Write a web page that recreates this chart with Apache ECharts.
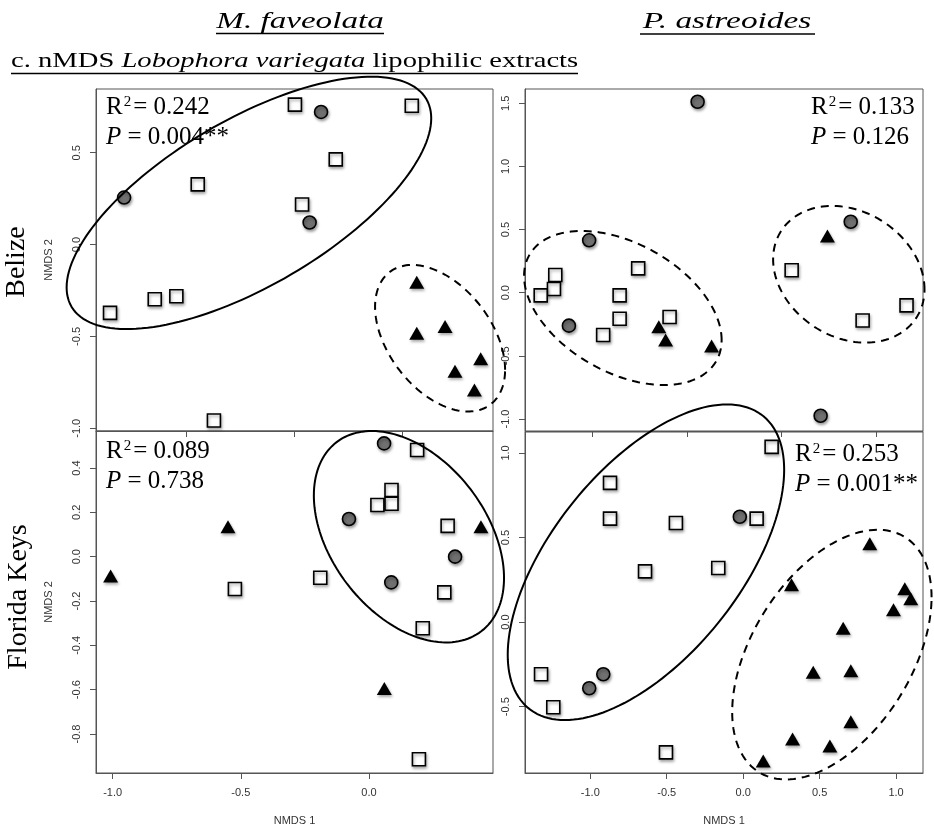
<!DOCTYPE html>
<html><head><meta charset="utf-8">
<script src="https://cdn.jsdelivr.net/npm/echarts@6/dist/echarts.min.js"></script>
<style>html,body{margin:0;padding:0;background:#fff}#c{width:934px;height:831px}</style>
</head><body><div id="c"></div>
<script>
// ---- Data (NMDS 1, NMDS 2) ----
const tlSquares = [[0.001,0.762],[0.542,0.756],[0.190,0.464],[-0.449,0.328],[0.034,0.218],[-0.648,-0.298],[-0.548,-0.281],[-0.855,-0.372],[-0.374,-0.958]];
const tlCircles = [[0.122,0.722],[-0.790,0.256],[0.069,0.120]];
const tlTriangles = [[0.565,-0.205],[0.565,-0.483],[0.696,-0.446],[0.861,-0.622],[0.742,-0.690],[0.832,-0.792]];

const trSquares = [[-1.195,0.140],[-1.202,0.029],[-1.272,-0.021],[-0.757,0.193],[-0.855,-0.021],[-0.855,-0.206],[-0.942,-0.335],[-0.591,-0.192],[0.054,0.178],[0.429,-0.220],[0.661,-0.100]];
const trCircles = [[-0.443,1.512],[-1.016,0.415],[-1.123,-0.261],[0.366,0.562],[0.207,-0.974]];
const trTriangles = [[-0.648,-0.269],[-0.612,-0.375],[-0.369,-0.422],[0.243,0.449]];

const blSquares = [[0.188,0.481],[0.088,0.301],[0.088,0.239],[0.033,0.233],[0.307,0.139],[-0.190,-0.095],[-0.523,-0.146],[0.294,-0.161],[0.210,-0.323],[0.195,-0.914]];
const blCircles = [[0.059,0.511],[-0.078,0.170],[0.336,0.000],[0.087,-0.116]];
const blTriangles = [[-1.008,-0.087],[-0.550,0.135],[0.060,-0.595],[0.437,0.135]];

const brSquares = [[0.186,1.036],[-0.871,0.823],[-0.871,0.612],[-0.440,0.586],[0.088,0.612],[-0.642,0.300],[-0.163,0.320],[-1.322,-0.308],[-1.242,-0.503],[-0.505,-0.770]];
const brCircles = [[-0.022,0.623],[-0.915,-0.308],[-1.007,-0.391]];
const brTriangles = [[0.828,0.464],[0.316,0.221],[1.057,0.197],[1.096,0.138],[0.983,0.073],[0.654,-0.036],[0.458,-0.296],[0.704,-0.287],[0.704,-0.589],[0.323,-0.691],[0.567,-0.732],[0.131,-0.821]];

// Ellipses: [centerX, centerY, halfWidth, halfHeight, tilt(sin phi), dashed(1)/solid(0)] in data units
const tlEllipses = [[-0.212,0.227,0.844,0.687,0.67,0],[0.673,-0.510,0.301,0.399,-0.43,1]];
const trEllipses = [[-0.838,-0.121,0.522,0.610,-0.416,1],[0.356,0.146,0.400,0.541,-0.22,1]];
const blEllipses = [[0.156,0.090,0.371,0.477,-0.39,0]];
const brEllipses = [[-0.636,0.354,0.904,0.933,0.586,0],[0.580,-0.192,0.652,0.738,0.46,1]];

// Tick values
const tlXTicks = [-0.5,0,0.5], tlYTicks = [-1,-0.5,0,0.5];
const trXTicks = [-1,-0.5,0,0.5], trYTicks = [-1,-0.5,0,0.5,1,1.5];
const blXTicks = [-1,-0.5,0], blYTicks = [-0.8,-0.6,-0.4,-0.2,0,0.2,0.4];
const brXTicks = [-1,-0.5,0,0.5,1], brYTicks = [-0.5,0,0.5,1];

// Stats text
const stats = [['0.242','0.004**'],['0.133','0.126'],['0.089','0.738'],['0.253','0.001**']];

const panels = [
  {grid:{left:96,top:89,width:397,height:342}, x:[-0.920,0.918], y:[-1.015,0.847], xt:tlXTicks, yt:tlYTicks, xLab:false, xName:'', yName:'NMDS 2',
   sq:tlSquares, ci:tlCircles, tr:tlTriangles, el:tlEllipses},
  {grid:{left:525,top:89,width:398,height:342}, x:[-1.355,0.748], y:[-1.095,1.613], xt:trXTicks, yt:trYTicks, xLab:false, xName:'', yName:'',
   sq:trSquares, ci:trCircles, tr:trTriangles, el:trEllipses},
  {grid:{left:96,top:431,width:397,height:342}, x:[-1.065,0.484], y:[-0.976,0.567], xt:blXTicks, yt:blYTicks, xLab:true, xName:'NMDS 1', yName:'NMDS 2',
   sq:blSquares, ci:blCircles, tr:blTriangles, el:blEllipses},
  {grid:{left:525,top:432,width:398,height:341}, x:[-1.427,1.176], y:[-0.892,1.124], xt:brXTicks, yt:brYTicks, xLab:true, xName:'NMDS 1', yName:'',
   sq:brSquares, ci:brCircles, tr:brTriangles, el:brEllipses}
];

const axisColor = '#555';
const labelStyle = {fontFamily:'Liberation Sans', fontSize:11, color:'#333'};
const fmt = v => Number(v).toFixed(1);
const shadow = {shadowColor:'rgba(0,0,0,0.35)', shadowBlur:3, shadowOffsetX:1, shadowOffsetY:2};

const grids = [], xAxes = [], yAxes = [], series = [];
panels.forEach((p, i) => {
  grids.push(Object.assign({show:true, borderColor:axisColor, borderWidth:1, backgroundColor:'transparent'}, p.grid));
  xAxes.push({type:'value', gridIndex:i, min:p.x[0], max:p.x[1], splitLine:{show:false},
    axisLine:{show:true, onZero:false, lineStyle:{color:axisColor}},
    axisTick:{show:true, length:6, customValues:p.xt, lineStyle:{color:axisColor}},
    axisLabel:{show:p.xLab, customValues:p.xt, formatter:fmt, margin:14, ...labelStyle},
    name:p.xName, nameLocation:'middle', nameGap:42, nameTextStyle:labelStyle});
  yAxes.push({type:'value', gridIndex:i, min:p.y[0], max:p.y[1], splitLine:{show:false},
    axisLine:{show:true, onZero:false, lineStyle:{color:axisColor}},
    axisTick:{show:true, length:6, customValues:p.yt, lineStyle:{color:axisColor}},
    axisLabel:{show:true, customValues:p.yt, formatter:fmt, rotate:90, margin:14, ...labelStyle},
    name:p.yName, nameLocation:'middle', nameGap:42, nameTextStyle:labelStyle});
  series.push({type:'scatter', xAxisIndex:i, yAxisIndex:i, data:p.sq, symbol:'rect', symbolSize:13, z:3,
    itemStyle:{color:'#fff', borderColor:'#000', borderWidth:1.6, opacity:1, ...shadow}});
  series.push({type:'scatter', xAxisIndex:i, yAxisIndex:i, data:p.ci, symbol:'circle', symbolSize:13, z:3,
    itemStyle:{color:'#707070', borderColor:'#000', borderWidth:1.6, opacity:1, ...shadow}});
  series.push({type:'scatter', xAxisIndex:i, yAxisIndex:i, data:p.tr, symbol:'triangle', symbolSize:[15,13], z:3,
    itemStyle:{color:'#000', opacity:1, ...shadow}});
  series.push({type:'custom', xAxisIndex:i, yAxisIndex:i, data:p.el, clip:false, z:5,
    encode:{x:0, y:1},
    renderItem:function(params, api){
      const cx=api.value(0), cy=api.value(1), w=api.value(2), h=api.value(3), phi=Math.asin(api.value(4)), dashed=api.value(5);
      const pts=[];
      for(let k=0;k<=160;k++){
        const t=2*Math.PI*k/160;
        pts.push(api.coord([cx+w*Math.cos(t), cy+h*Math.sin(t+phi)]));
      }
      return {type:'polyline', shape:{points:pts}, silent:true,
        style:{fill:null, stroke:'#000', lineWidth:2, lineDash: dashed ? [8,6] : null}};
    }});
});

const serif = '"Liberation Serif", "Times New Roman", serif';
function statText(x, y, r2, p, align){
  return [
    {type:'text', x:x, y:y, z:10, style:{text:'R{s|2}= ' + r2, fill:'#000', font:'25px ' + serif,
      align:align, textAlign:align, verticalAlign:'middle', textVerticalAlign:'middle',
      rich:{s:{fontSize:15, fontFamily:'Liberation Serif', verticalAlign:'top', padding:[0,2,0,1]}}}},
    {type:'text', x:x, y:y+30, z:10, style:{text:'{i|P} = ' + p, fill:'#000', font:'25px ' + serif,
      align:align, textAlign:align, verticalAlign:'middle', textVerticalAlign:'middle',
      rich:{i:{fontSize:25, fontFamily:'Liberation Serif', fontStyle:'italic'}}}}
  ];
}

const graphics = [
  {type:'text', x:300, y:22, scaleX:1.44, style:{text:'M. faveolata', fill:'#000', font:'italic 23px ' + serif, align:'center', textAlign:'center', verticalAlign:'middle', textVerticalAlign:'middle'}},
  {type:'line', shape:{x1:216, y1:33.5, x2:384, y2:33.5}, style:{stroke:'#000', lineWidth:1.5}},
  {type:'text', x:727, y:22, scaleX:1.45, style:{text:'P. astreoides', fill:'#000', font:'italic 23px ' + serif, align:'center', textAlign:'center', verticalAlign:'middle', textVerticalAlign:'middle'}},
  {type:'line', shape:{x1:640, y1:34, x2:815, y2:34}, style:{stroke:'#000', lineWidth:1.5}},
  {type:'text', x:11, y:61, scaleX:1.30, style:{text:'{n|c. nMDS }{i|Lobophora variegata}{n| lipophilic extracts}', fill:'#000', font:'22px ' + serif,
    align:'left', textAlign:'left', verticalAlign:'middle', textVerticalAlign:'middle',
    rich:{n:{fontSize:22, fontFamily:'Liberation Serif'}, i:{fontSize:22, fontFamily:'Liberation Serif', fontStyle:'italic'}}}},
  {type:'line', shape:{x1:11, y1:73.5, x2:578, y2:73.5}, style:{stroke:'#000', lineWidth:1.5}},
  {type:'text', x:17, y:262, rotation:Math.PI/2, style:{text:'Belize', fill:'#000', font:'28px ' + serif, align:'center', textAlign:'center', verticalAlign:'middle', textVerticalAlign:'middle'}},
  {type:'text', x:19, y:597, rotation:Math.PI/2, style:{text:'Florida Keys', fill:'#000', font:'28px ' + serif, align:'center', textAlign:'center', verticalAlign:'middle', textVerticalAlign:'middle'}},
  ...statText(106, 107, stats[0][0], stats[0][1], 'left'),
  ...statText(811, 107, stats[1][0], stats[1][1], 'left'),
  ...statText(106, 451, stats[2][0], stats[2][1], 'left'),
  ...statText(795, 454, stats[3][0], stats[3][1], 'left')
];

const chart = echarts.init(document.getElementById('c'), null, {renderer:'canvas'});
chart.setOption({
  animation:false,
  backgroundColor:'#fff',
  grid:grids, xAxis:xAxes, yAxis:yAxes, series:series,
  graphic:{elements:graphics}
});
</script>
</body></html>
